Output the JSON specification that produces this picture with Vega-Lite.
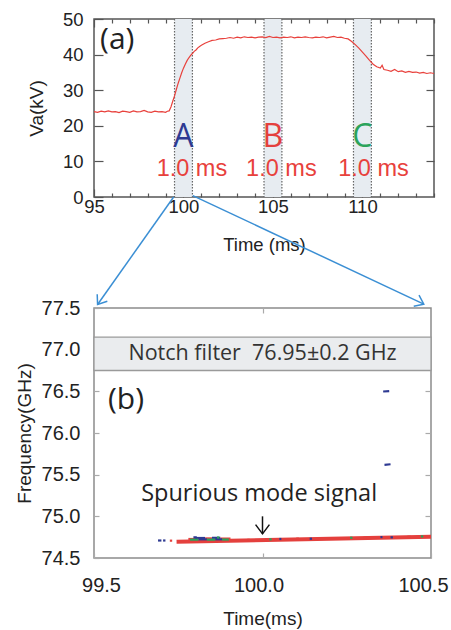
{
  "$schema": "https://vega.github.io/schema/vega-lite/v6.json",
  "padding": {"left": 14, "top": 9, "right": 5, "bottom": 2},
  "background": "white",
  "config": {"font": "Liberation Sans", "axis": {"grid": false, "domain": false, "labelOverlap": false, "labelFlush": false, "titleFontWeight": "normal"}},
  "datasets": {
    "va": [
      {"t": 95.0, "v": 24.0}, {"t": 95.2, "v": 23.8}, {"t": 95.4, "v": 24.1}, {"t": 95.6, "v": 23.9}, {"t": 95.8, "v": 24.2},
      {"t": 96.0, "v": 23.9}, {"t": 96.2, "v": 24.0}, {"t": 96.4, "v": 23.7}, {"t": 96.6, "v": 24.1}, {"t": 96.8, "v": 24.0},
      {"t": 97.0, "v": 23.8}, {"t": 97.2, "v": 24.2}, {"t": 97.4, "v": 23.9}, {"t": 97.6, "v": 24.0}, {"t": 97.8, "v": 24.3},
      {"t": 98.0, "v": 23.9}, {"t": 98.2, "v": 23.8}, {"t": 98.4, "v": 24.1}, {"t": 98.6, "v": 23.9}, {"t": 98.8, "v": 24.0},
      {"t": 99.0, "v": 23.8}, {"t": 99.1, "v": 24.1}, {"t": 99.2, "v": 24.2}, {"t": 99.3, "v": 25.3}, {"t": 99.4, "v": 26.9},
      {"t": 99.5, "v": 28.4}, {"t": 99.6, "v": 30.2}, {"t": 99.7, "v": 31.9}, {"t": 99.8, "v": 33.4}, {"t": 99.9, "v": 34.9},
      {"t": 100.0, "v": 36.2}, {"t": 100.1, "v": 37.3}, {"t": 100.2, "v": 38.3}, {"t": 100.3, "v": 39.1}, {"t": 100.4, "v": 39.8},
      {"t": 100.5, "v": 40.3}, {"t": 100.6, "v": 40.9}, {"t": 100.7, "v": 41.3}, {"t": 100.8, "v": 41.9}, {"t": 100.9, "v": 42.3},
      {"t": 101.0, "v": 42.6}, {"t": 101.2, "v": 43.2}, {"t": 101.4, "v": 43.6}, {"t": 101.6, "v": 44.0}, {"t": 101.8, "v": 44.1},
      {"t": 102.0, "v": 44.4}, {"t": 102.2, "v": 44.5}, {"t": 102.4, "v": 44.6}, {"t": 102.6, "v": 44.8}, {"t": 102.8, "v": 44.6},
      {"t": 103.0, "v": 44.9}, {"t": 103.2, "v": 44.7}, {"t": 103.4, "v": 45.0}, {"t": 103.6, "v": 44.8}, {"t": 103.8, "v": 44.9},
      {"t": 104.0, "v": 44.7}, {"t": 104.2, "v": 44.9}, {"t": 104.4, "v": 45.0}, {"t": 104.6, "v": 44.8}, {"t": 104.8, "v": 45.1},
      {"t": 105.0, "v": 44.8}, {"t": 105.2, "v": 44.9}, {"t": 105.4, "v": 44.7}, {"t": 105.6, "v": 44.9}, {"t": 105.8, "v": 44.8},
      {"t": 106.0, "v": 45.0}, {"t": 106.2, "v": 44.7}, {"t": 106.4, "v": 44.9}, {"t": 106.6, "v": 44.8}, {"t": 106.8, "v": 45.0},
      {"t": 107.0, "v": 44.8}, {"t": 107.2, "v": 44.7}, {"t": 107.4, "v": 44.9}, {"t": 107.6, "v": 44.8}, {"t": 107.8, "v": 45.0},
      {"t": 108.0, "v": 44.7}, {"t": 108.2, "v": 44.9}, {"t": 108.4, "v": 45.1}, {"t": 108.6, "v": 44.8}, {"t": 108.8, "v": 44.9},
      {"t": 109.0, "v": 44.6}, {"t": 109.2, "v": 44.4}, {"t": 109.4, "v": 43.7}, {"t": 109.6, "v": 42.8}, {"t": 109.8, "v": 41.8},
      {"t": 110.0, "v": 40.7}, {"t": 110.2, "v": 39.6}, {"t": 110.4, "v": 38.4}, {"t": 110.6, "v": 37.3}, {"t": 110.8, "v": 36.6},
      {"t": 111.0, "v": 36.2}, {"t": 111.1, "v": 37.0}, {"t": 111.2, "v": 35.8}, {"t": 111.4, "v": 35.6}, {"t": 111.6, "v": 35.3},
      {"t": 111.8, "v": 35.8}, {"t": 112.0, "v": 35.2}, {"t": 112.2, "v": 35.4}, {"t": 112.4, "v": 35.0}, {"t": 112.6, "v": 35.3},
      {"t": 112.8, "v": 35.0}, {"t": 113.0, "v": 35.1}, {"t": 113.2, "v": 34.8}, {"t": 113.4, "v": 35.0}, {"t": 113.6, "v": 34.7},
      {"t": 113.8, "v": 34.9}, {"t": 114.0, "v": 34.7}
    ],
    "bands": [{"t1": 99.5, "t2": 100.5}, {"t1": 104.5, "t2": 105.5}, {"t1": 109.5, "t2": 110.5}],
    "letters": [{"label": "A", "t": 100.0, "v": 16.8}, {"label": "B", "t": 105.0, "v": 16.8}, {"label": "C", "t": 110.0, "v": 16.8}],
    "dur": [{"label": "1.0 ms", "t": 98.5, "v": 7.9}, {"label": "1.0 ms", "t": 103.5, "v": 7.9}, {"label": "1.0 ms", "t": 108.65, "v": 7.9}],
    "tagA": [{"label": "(a)", "t": 96.3, "v": 44.0}],
    "arrows": [{"id": "L", "t1": 99.45, "v1": 0, "t2": 95.2, "v2": -30.2}, {"id": "R", "t1": 100.52, "v1": 0.4, "t2": 113.43, "v2": -30.1}],
    "notch": [{"f1": 76.75, "f2": 77.15, "t": 100.0, "f": 76.95, "label": "Notch filter\u00a0\u00a076.95±0.2\u00a0GHz"}],
    "spec": [
      {"t1": 99.745, "t2": 100.5, "f1": 74.695, "f2": 74.755, "lvl": 5},
      {"t1": 99.69, "t2": 99.70, "f1": 74.71, "f2": 74.71, "lvl": 1},
      {"t1": 99.705, "t2": 99.712, "f1": 74.71, "f2": 74.71, "lvl": 1},
      {"t1": 99.725, "t2": 99.732, "f1": 74.708, "f2": 74.708, "lvl": 2},
      {"t1": 99.78, "t2": 99.80, "f1": 74.728, "f2": 74.728, "lvl": 2},
      {"t1": 99.80, "t2": 99.83, "f1": 74.74, "f2": 74.74, "lvl": 1},
      {"t1": 99.83, "t2": 99.85, "f1": 74.735, "f2": 74.735, "lvl": 2},
      {"t1": 99.85, "t2": 99.875, "f1": 74.742, "f2": 74.742, "lvl": 1},
      {"t1": 99.875, "t2": 99.905, "f1": 74.733, "f2": 74.733, "lvl": 2},
      {"t1": 99.785, "t2": 99.81, "f1": 74.72, "f2": 74.72, "lvl": 3},
      {"t1": 99.81, "t2": 99.835, "f1": 74.724, "f2": 74.724, "lvl": 4},
      {"t1": 99.835, "t2": 99.86, "f1": 74.72, "f2": 74.72, "lvl": 3},
      {"t1": 99.86, "t2": 99.88, "f1": 74.724, "f2": 74.724, "lvl": 4},
      {"t1": 99.88, "t2": 99.9, "f1": 74.721, "f2": 74.721, "lvl": 3},
      {"t1": 99.795, "t2": 99.805, "f1": 74.748, "f2": 74.748, "lvl": 1},
      {"t1": 99.82, "t2": 99.828, "f1": 74.732, "f2": 74.732, "lvl": 4},
      {"t1": 99.865, "t2": 99.872, "f1": 74.746, "f2": 74.746, "lvl": 3},
      {"t1": 99.955, "t2": 99.962, "f1": 74.718, "f2": 74.718, "lvl": 2},
      {"t1": 100.02, "t2": 100.027, "f1": 74.724, "f2": 74.724, "lvl": 3},
      {"t1": 100.05, "t2": 100.056, "f1": 74.728, "f2": 74.728, "lvl": 1},
      {"t1": 100.1, "t2": 100.108, "f1": 74.732, "f2": 74.732, "lvl": 2},
      {"t1": 100.14, "t2": 100.147, "f1": 74.731, "f2": 74.731, "lvl": 4},
      {"t1": 100.2, "t2": 100.208, "f1": 74.738, "f2": 74.738, "lvl": 2},
      {"t1": 100.26, "t2": 100.267, "f1": 74.743, "f2": 74.743, "lvl": 3},
      {"t1": 100.3, "t2": 100.31, "f1": 74.744, "f2": 74.744, "lvl": 2},
      {"t1": 100.35, "t2": 100.356, "f1": 74.751, "f2": 74.751, "lvl": 1},
      {"t1": 100.38, "t2": 100.387, "f1": 74.748, "f2": 74.748, "lvl": 4},
      {"t1": 100.43, "t2": 100.44, "f1": 74.755, "f2": 74.755, "lvl": 2},
      {"t1": 100.47, "t2": 100.477, "f1": 74.759, "f2": 74.759, "lvl": 3},
      {"t1": 100.358, "t2": 100.376, "f1": 76.498, "f2": 76.503, "lvl": 1},
      {"t1": 100.362, "t2": 100.38, "f1": 75.618, "f2": 75.625, "lvl": 1}
    ],
    "notes": [{"label": "Spurious mode signal", "t": 99.99, "f": 75.27}],
    "tagB": [{"label": "(b)", "t": 99.595, "f": 76.4}],
    "ptr": [{"t": 100.0, "f1": 75.0, "f2": 74.79}]
  },
  "vconcat": [
    {
      "width": 340,
      "height": 178,
      "view": {"stroke": "#555555", "strokeWidth": 1.5},
      "resolve": {"axis": {"x": "independent", "y": "independent"}},
      "layer": [
        {
          "data": {"name": "bands"},
          "mark": {"type": "rect", "fill": "#e7ecf1"},
          "encoding": {
            "x": {"field": "t1", "type": "quantitative", "scale": {"domain": [95, 114], "nice": false, "zero": false},
              "axis": {"orient": "bottom", "values": [95,96,97,98,99,100,101,102,103,104,105,106,107,108,109,110,111,112,113,114],
                "labelExpr": "datum.value % 5 === 0 ? datum.label : ''", "format": "d",
                "tickColor": "#555555", "tickWidth": 1.2,
                "tickSize": {"condition": {"test": "datum.value % 5 === 0", "value": -8}, "value": -4},
                "labelFontSize": 18.5, "labelColor": "#222222", "labelPadding": 8,
                "title": "Time (ms)", "titleFontSize": 18.5, "titleColor": "#222222", "titlePadding": 16}},
            "x2": {"field": "t2"}
          }
        },
        {
          "data": {"name": "bands"},
          "mark": {"type": "rule", "stroke": "#666666", "strokeWidth": 1.2, "strokeDash": [1.5, 1.5]},
          "encoding": {"x": {"field": "t1", "type": "quantitative", "scale": {"domain": [95, 114], "nice": false, "zero": false}, "axis": null}}
        },
        {
          "data": {"name": "bands"},
          "mark": {"type": "rule", "stroke": "#666666", "strokeWidth": 1.2, "strokeDash": [1.5, 1.5]},
          "encoding": {"x": {"field": "t2", "type": "quantitative", "scale": {"domain": [95, 114], "nice": false, "zero": false}, "axis": null}}
        },
        {
          "data": {"name": "va"},
          "mark": {"type": "line", "stroke": "#e8413c", "strokeWidth": 1.2},
          "encoding": {
            "x": {"field": "t", "type": "quantitative", "scale": {"domain": [95, 114], "nice": false, "zero": false},
              "axis": {"orient": "top", "values": [95,96,97,98,99,100,101,102,103,104,105,106,107,108,109,110,111,112,113,114],
                "labels": false, "tickColor": "#555555", "tickWidth": 1.2,
                "tickSize": {"condition": {"test": "datum.value % 5 === 0", "value": -8}, "value": -4}, "title": null}},
            "y": {"field": "v", "type": "quantitative", "scale": {"domain": [0, 50], "nice": false, "zero": false},
              "axis": {"orient": "left", "values": [0, 10, 20, 30, 40, 50], "tickColor": "#555555", "tickWidth": 1.2, "tickSize": -9,
                "labelFontSize": 18.5, "labelColor": "#222222", "labelPadding": 20,
                "title": "Va(kV)", "titleFontSize": 19, "titleColor": "#222222", "titleX": -48, "titleY": 89, "titleAngle": -90, "titleBaseline": "bottom", "titleAlign": "center"}}
          }
        },
        {
          "data": {"name": "letters"},
          "mark": {"type": "text", "font": "Open Sans", "fontSize": 32, "baseline": "middle", "align": "center"},
          "encoding": {
            "x": {"field": "t", "type": "quantitative", "scale": {"domain": [95, 114], "nice": false, "zero": false}, "axis": null},
            "y": {"field": "v", "type": "quantitative", "scale": {"domain": [0, 50], "nice": false, "zero": false},
              "axis": {"orient": "right", "values": [10, 20, 30, 40], "labels": false, "tickColor": "#555555", "tickWidth": 1.2, "tickSize": -8, "title": null}},
            "text": {"field": "label"},
            "color": {"field": "label", "type": "nominal", "scale": {"domain": ["A", "B", "C"], "range": ["#2e3a92", "#e4403d", "#2ba35b"]}, "legend": null}
          }
        },
        {
          "data": {"name": "dur"},
          "mark": {"type": "text", "font": "Liberation Sans", "fontSize": 23.5, "baseline": "middle", "align": "left", "color": "#e8413c"},
          "encoding": {
            "x": {"field": "t", "type": "quantitative", "scale": {"domain": [95, 114], "nice": false, "zero": false}, "axis": null},
            "y": {"field": "v", "type": "quantitative", "scale": {"domain": [0, 50], "nice": false, "zero": false}, "axis": null},
            "text": {"field": "label"}
          }
        },
        {
          "data": {"name": "tagA"},
          "mark": {"type": "text", "font": "Open Sans", "fontSize": 30, "baseline": "middle", "align": "center", "color": "#222222"},
          "encoding": {
            "x": {"field": "t", "type": "quantitative", "scale": {"domain": [95, 114], "nice": false, "zero": false}, "axis": null},
            "y": {"field": "v", "type": "quantitative", "scale": {"domain": [0, 50], "nice": false, "zero": false}, "axis": null},
            "text": {"field": "label"}
          }
        },
        {
          "data": {"name": "arrows"},
          "mark": {"type": "rule", "stroke": "#3b8fd4", "strokeWidth": 1.5},
          "encoding": {
            "x": {"field": "t1", "type": "quantitative", "scale": {"domain": [95, 114], "nice": false, "zero": false}, "axis": null},
            "y": {"field": "v1", "type": "quantitative", "scale": {"domain": [0, 50], "nice": false, "zero": false}, "axis": null},
            "x2": {"field": "t2"},
            "y2": {"field": "v2"}
          }
        },
        {
          "data": {"name": "arrows"},
          "transform": [{"filter": "datum.id === 'L'"}],
          "mark": {"type": "point", "shape": "M-1,-0.75L0,0L-1,0.75", "filled": false, "stroke": "#3b8fd4", "strokeWidth": 1.5, "size": 270, "angle": 124.8, "opacity": 1},
          "encoding": {
            "x": {"field": "t2", "type": "quantitative", "scale": {"domain": [95, 114], "nice": false, "zero": false}, "axis": null},
            "y": {"field": "v2", "type": "quantitative", "scale": {"domain": [0, 50], "nice": false, "zero": false}, "axis": null}
          }
        },
        {
          "data": {"name": "arrows"},
          "transform": [{"filter": "datum.id === 'R'"}],
          "mark": {"type": "point", "shape": "M-1,-0.75L0,0L-1,0.75", "filled": false, "stroke": "#3b8fd4", "strokeWidth": 1.5, "size": 270, "angle": 25.3, "opacity": 1},
          "encoding": {
            "x": {"field": "t2", "type": "quantitative", "scale": {"domain": [95, 114], "nice": false, "zero": false}, "axis": null},
            "y": {"field": "v2", "type": "quantitative", "scale": {"domain": [0, 50], "nice": false, "zero": false}, "axis": null}
          }
        }
      ]
    },
    {
      "width": 337,
      "height": 250,
      "view": {"stroke": "#8c8c8c", "strokeWidth": 1.5},
      "resolve": {"axis": {"x": "independent", "y": "independent"}},
      "layer": [
        {
          "data": {"name": "notch"},
          "mark": {"type": "rect", "fill": "#eaecee", "stroke": "#9a9a9a", "strokeWidth": 1.3},
          "encoding": {
            "y": {"field": "f1", "type": "quantitative", "scale": {"domain": [74.5, 77.5], "nice": false, "zero": false},
              "axis": {"orient": "left", "values": [74.5, 75, 75.5, 76, 76.5, 77, 77.5], "format": ".1f",
                "tickColor": "#aaaaaa", "tickWidth": 1.2, "tickSize": -5,
                "labelFontSize": 20, "labelColor": "#222222", "labelPadding": 19,
                "title": "Frequency(GHz)", "titleFontSize": 19, "titleColor": "#222222", "titlePadding": 7}},
            "y2": {"field": "f2"}
          }
        },
        {
          "data": {"name": "notch"},
          "mark": {"type": "text", "font": "Open Sans", "fontSize": 21.5, "baseline": "middle", "align": "center", "color": "#333333"},
          "encoding": {
            "x": {"field": "t", "type": "quantitative", "scale": {"domain": [99.5, 100.5], "nice": false, "zero": false},
              "axis": {"orient": "bottom", "values": [99.5, 100, 100.5], "format": ".1f",
                "tickColor": "#aaaaaa", "tickWidth": 1.2, "tickSize": -5,
                "labelFontSize": 20, "labelColor": "#222222", "labelPadding": 22,
                "labelOffset": {"condition": [{"test": "datum.value === 99.5", "value": 7}, {"test": "datum.value === 100.5", "value": -8}], "value": -4},
                "title": "Time(ms)", "titleFontSize": 19, "titleColor": "#222222", "titlePadding": 14}},
            "y": {"field": "f", "type": "quantitative", "scale": {"domain": [74.5, 77.5], "nice": false, "zero": false}, "axis": null},
            "text": {"field": "label"}
          }
        },
        {
          "data": {"name": "spec"},
          "mark": {"type": "rule", "strokeCap": "butt"},
          "encoding": {
            "x": {"field": "t1", "type": "quantitative", "scale": {"domain": [99.5, 100.5], "nice": false, "zero": false},
              "axis": {"orient": "top", "values": [100], "labels": false, "tickColor": "#aaaaaa", "tickWidth": 1.2, "tickSize": -5, "title": null}},
            "y": {"field": "f1", "type": "quantitative", "scale": {"domain": [74.5, 77.5], "nice": false, "zero": false},
              "axis": {"orient": "right", "values": [75, 75.5, 76, 76.5, 77], "labels": false, "tickColor": "#aaaaaa", "tickWidth": 1.2, "tickSize": -6, "title": null}},
            "x2": {"field": "t2"},
            "y2": {"field": "f2"},
            "color": {"field": "lvl", "type": "ordinal", "scale": {"domain": [1, 2, 3, 4, 5], "range": ["#2d3a9e", "#29b6e8", "#3fb44a", "#f3e61a", "#ee2a24"]}, "legend": null},
            "strokeWidth": {"condition": {"test": "datum.lvl === 5", "value": 4}, "value": 2.2}
          }
        },
        {
          "data": {"name": "ptr"},
          "mark": {"type": "rule", "stroke": "#111111", "strokeWidth": 1.5},
          "encoding": {
            "x": {"field": "t", "type": "quantitative", "scale": {"domain": [99.5, 100.5], "nice": false, "zero": false}, "axis": null},
            "y": {"field": "f1", "type": "quantitative", "scale": {"domain": [74.5, 77.5], "nice": false, "zero": false}, "axis": null},
            "y2": {"field": "f2"}
          }
        },
        {
          "data": {"name": "ptr"},
          "mark": {"type": "point", "shape": "M-0.75,-1L0,0L0.75,-1", "filled": false, "stroke": "#111111", "strokeWidth": 1.5, "size": 340, "opacity": 1},
          "encoding": {
            "x": {"field": "t", "type": "quantitative", "scale": {"domain": [99.5, 100.5], "nice": false, "zero": false}, "axis": null},
            "y": {"field": "f2", "type": "quantitative", "scale": {"domain": [74.5, 77.5], "nice": false, "zero": false}, "axis": null}
          }
        },
        {
          "data": {"name": "notes"},
          "mark": {"type": "text", "font": "Open Sans", "fontSize": 23.5, "baseline": "middle", "align": "center", "color": "#222222"},
          "encoding": {
            "x": {"field": "t", "type": "quantitative", "scale": {"domain": [99.5, 100.5], "nice": false, "zero": false}, "axis": null},
            "y": {"field": "f", "type": "quantitative", "scale": {"domain": [74.5, 77.5], "nice": false, "zero": false}, "axis": null},
            "text": {"field": "label"}
          }
        },
        {
          "data": {"name": "tagB"},
          "mark": {"type": "text", "font": "Open Sans", "fontSize": 30, "baseline": "middle", "align": "center", "color": "#222222"},
          "encoding": {
            "x": {"field": "t", "type": "quantitative", "scale": {"domain": [99.5, 100.5], "nice": false, "zero": false}, "axis": null},
            "y": {"field": "f", "type": "quantitative", "scale": {"domain": [74.5, 77.5], "nice": false, "zero": false}, "axis": null},
            "text": {"field": "label"}
          }
        }
      ]
    }
  ],
  "spacing": 111,
  "bounds": "flush"
}
